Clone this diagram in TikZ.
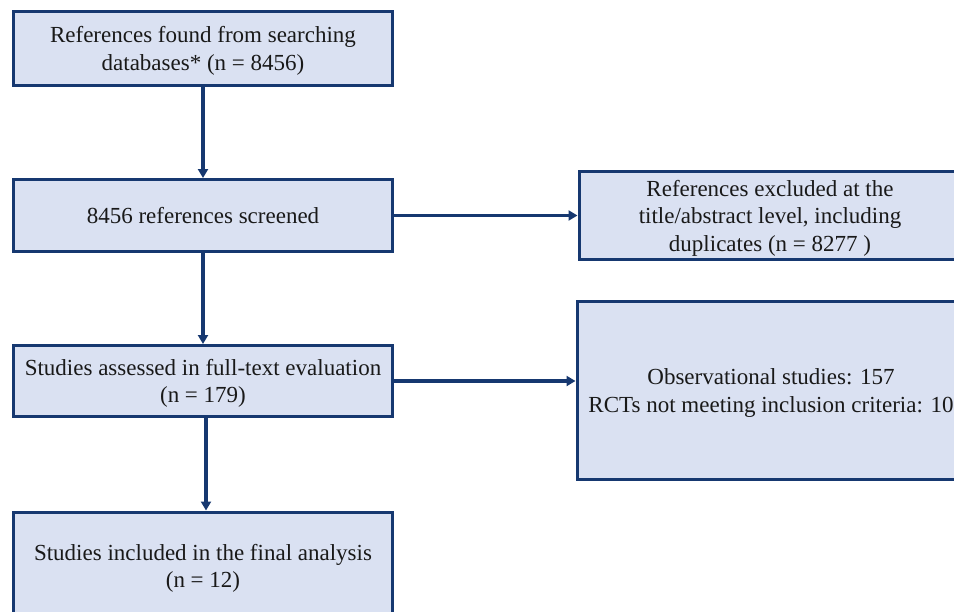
\documentclass[tikz,border=0pt]{standalone}
\usepackage{fontspec}
\setmainfont{Liberation Serif}
\usetikzlibrary{arrows.meta}
\definecolor{boxfill}{RGB}{218,225,242}
\definecolor{boxline}{RGB}{22,56,112}
\tikzset{
  flowbox/.style={draw=boxline, fill=boxfill, line width=3pt, align=center,
    inner sep=0pt, text depth=0pt, font=\fontsize{23}{27.5}\selectfont, text=black!90},
  flowarrow/.style={draw=boxline, line width=3.2pt,
    -{Triangle[length=9pt,width=10pt]}}
}
\begin{document}
\begin{tikzpicture}[x=1pt,y=-1pt]
\useasboundingbox (0,0) rectangle (954,611);
\clip (0,0) rectangle (954,611);
\fill[white] (0,0) rectangle (954,611);
\node[flowbox, minimum width=379pt, minimum height=74pt] (b1) at (203,48.5)
  {References found from searching\\databases* (n = 8456)};
\node[flowbox, minimum width=379pt, minimum height=72pt] (b2) at (203,215.5)
  {8456 references screened};
\node[flowbox, minimum width=382pt, minimum height=88pt] (b3) at (770,215.5)
  {References excluded at the\\title/abstract level, including\\duplicates (n = 8277 )};
\node[flowbox, minimum width=379pt, minimum height=71pt] (b4) at (203,381)
  {Studies assessed in full-text evaluation\\(n = 179)};
\node[flowbox, minimum width=388pt, minimum height=178pt] (b5) at (771,390.5)
  {Observational studies: 157\\RCTs not meeting inclusion criteria: 10};
\node[flowbox, minimum width=379pt, minimum height=108pt] (b6) at (203,566)
  {Studies included in the final analysis\\(n = 12)};
\draw[flowarrow] (b1.south) -- (b2.north);
\draw[flowarrow] (b2.south) -- (b4.north);
\draw[flowarrow] ([xshift=3pt]b4.south) -- ([xshift=3pt]b6.north);
\draw[flowarrow] (b2.east) -- (b2.east -| b3.west);
\draw[flowarrow] (b4.east) -- (b4.east -| b5.west);
\end{tikzpicture}
\end{document}
